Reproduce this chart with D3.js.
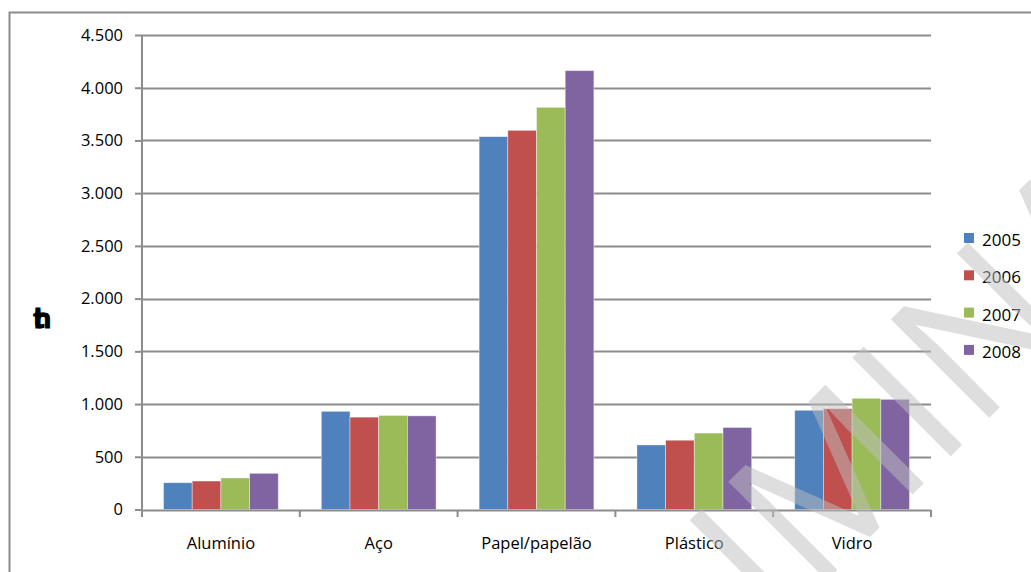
<!DOCTYPE html>
<html>
<head>
<meta charset="utf-8">
<script src="https://cdn.jsdelivr.net/npm/d3@7"></script>
<style>
  body { margin: 0; background: #fff; }
  text { font-family: "Open Sans", sans-serif; }
</style>
</head>
<body>
<svg width="1031" height="572"></svg>
<script>
// chart data
const categories = ["Alumínio", "Aço", "Papel/papelão", "Plástico", "Vidro"];
const years = ["2005", "2006", "2007", "2008"];
const v2005 = [254, 931, 3536, 612, 941];
const v2006 = [270, 876, 3596, 657, 956];
const v2007 = [299, 892, 3814, 725, 1055];
const v2008 = [343, 888, 4162, 778, 1045];
const yTicks = [0, 500, 1000, 1500, 2000, 2500, 3000, 3500, 4000, 4500];
const colors = ["#4f81bd", "#c0504d", "#9bbb59", "#8064a2"];

const series = [v2005, v2006, v2007, v2008];

const width = 1031;
const height = 572;
const margin = { top: 35, right: 100, bottom: 62.5, left: 142 };

const svg = d3.select("svg");

// outer chart border (runs off the page on the right and bottom)
svg.append("rect")
    .attr("x", 9.5)
    .attr("y", 12.5)
    .attr("width", 1100)
    .attr("height", 700)
    .attr("fill", "none")
    .attr("stroke", "#8c8c8c")
    .attr("stroke-width", 2);

const x0 = d3.scaleBand()
    .domain(categories)
    .range([margin.left, 931])
    .paddingInner(0)
    .paddingOuter(0);

const x1 = d3.scaleBand()
    .domain(years)
    .range([0, x0.bandwidth()])
    .paddingOuter(0.75)
    .paddingInner(0);

const y = d3.scaleLinear()
    .domain([0, 4500])
    .range([height - margin.bottom, margin.top]);

const fmt = d => d3.format(",")(d).replace(/,/g, ".");

// gridlines
svg.append("g")
    .selectAll("line")
    .data(yTicks.slice(1))
    .enter()
    .append("line")
    .attr("x1", margin.left)
    .attr("x2", 931)
    .attr("y1", d => Math.round(y(d)) + 0.5)
    .attr("y2", d => Math.round(y(d)) + 0.5)
    .attr("stroke", "#8c8c8c")
    .attr("stroke-width", 2);

// y axis
const yAxis = svg.append("g")
    .attr("transform", `translate(${margin.left}, 0)`)
    .call(d3.axisLeft(y).tickValues(yTicks).tickFormat(fmt).tickSize(7).tickPadding(12));
yAxis.selectAll("path, line").attr("stroke", "#8c8c8c").attr("stroke-width", 2);
yAxis.select(".domain").attr("d", `M0,${y(4500)}V${y(0)}`);
yAxis.selectAll("text")
    .attr("font-family", "Open Sans")
    .attr("font-size", 16.5)
    .attr("fill", "#000");

// bars
const groups = svg.append("g")
    .selectAll("g")
    .data(categories)
    .enter()
    .append("g")
    .attr("transform", d => `translate(${x0(d)}, 0)`);

groups.selectAll("rect")
    .data((d, i) => years.map((yr, j) => ({ yr, v: series[j][i], c: colors[j] })))
    .enter()
    .append("rect")
    .attr("x", d => x1(d.yr))
    .attr("width", x1.bandwidth())
    .attr("y", d => y(d.v))
    .attr("height", d => y(0) - y(d.v))
    .attr("fill", d => d.c)
    .attr("stroke", "#fff")
    .attr("stroke-opacity", 0.5)
    .attr("stroke-width", 0.8);

// x axis
const xAxis = svg.append("g")
    .attr("transform", `translate(0, ${Math.round(y(0)) + 0.5})`)
    .call(d3.axisBottom(x0).tickSize(0).tickPadding(27));
xAxis.select(".domain").attr("stroke", "#8c8c8c").attr("stroke-width", 2)
    .attr("d", `M${margin.left},0H931`);
xAxis.selectAll("text")
    .attr("font-family", "Open Sans")
    .attr("font-size", 16.5)
    .attr("fill", "#000");

// category boundary ticks
svg.append("g")
    .selectAll("line")
    .data(categories.map(c => x0(c)).concat([x0.range()[1]]))
    .enter()
    .append("line")
    .attr("x1", d => d)
    .attr("x2", d => d)
    .attr("y1", Math.round(y(0)))
    .attr("y2", Math.round(y(0)) + 7)
    .attr("stroke", "#8c8c8c")
    .attr("stroke-width", 2);

// y axis title (rendered as overlapping glyphs in the source)
svg.append("text")
    .attr("x", 33)
    .attr("y", 328)
    .attr("font-family", "DejaVu Sans")
    .attr("font-weight", "bold")
    .attr("font-size", 27)
    .attr("letter-spacing", -11)
    .attr("stroke", "#000")
    .attr("stroke-width", 1)
    .text("th");

// legend
const legend = svg.append("g")
    .selectAll("g")
    .data(years)
    .enter()
    .append("g")
    .attr("transform", (d, i) => `translate(964, ${233 + i * 37.3})`);

legend.append("rect")
    .attr("width", 10)
    .attr("height", 10)
    .attr("fill", (d, i) => colors[i]);

legend.append("text")
    .attr("x", 18)
    .attr("y", 13)
    .attr("font-size", 17)
    .attr("fill", "#000")
    .text(d => d);

// watermark
svg.append("text")
    .attr("transform", "translate(458, 949) rotate(-45)")
    .attr("font-family", "Liberation Sans")
    .attr("font-size", 195)
    .attr("fill", "#bdbdbd")
    .attr("fill-opacity", 0.5)
    .text("PRELIMINAR");
</script>
</body>
</html>
